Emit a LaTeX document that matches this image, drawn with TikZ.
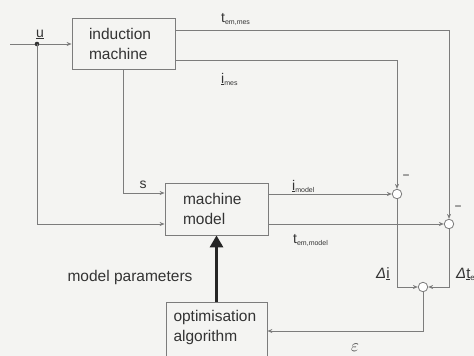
\documentclass[tikz,border=0pt]{standalone}
\usepackage{fontspec}
\setmainfont{Liberation Sans}
\usetikzlibrary{arrows.meta}
\definecolor{ln}{HTML}{7C7C7C}
\definecolor{tx}{HTML}{333333}
\definecolor{bg}{HTML}{F4F4F2}
\begin{document}
\begin{tikzpicture}[x=1pt,y=-1pt,
  line/.style={draw=ln, line width=0.8pt},
  arr/.style={line, -{Stealth[length=5pt,width=4pt]}},
  blk/.style={draw=ln, line width=0.8pt, rectangle, align=left, text=tx,
    font=\fontsize{15.5}{20}\selectfont, inner ysep=0pt},
  summer/.style={circle, draw=ln, line width=0.8pt, fill=white, minimum size=9.5pt, inner sep=0pt},
  lbl/.style={text=tx, font=\fontsize{14}{16}\selectfont, inner sep=0pt},
  sublbl/.style={text=tx, inner sep=0pt, anchor=base west},
  thick arrow/.style={draw=black!85, line width=3.2pt, -{Triangle[length=12pt,width=13pt]}}]
\fill[bg] (0,0) rectangle (474,356);
\useasboundingbox (0,0) rectangle (474,356);

% blocks
\node[blk, minimum width=103pt, minimum height=51pt, text width=69pt, inner xsep=17pt]
  (im) at (123.5,44) {induction\\machine};
\node[blk, minimum width=103pt, minimum height=52pt, text width=67pt, inner xsep=18pt]
  (mm) at (216.5,209) {machine\\model};
\node[blk, anchor=north, minimum width=101pt, text width=86pt, inner xsep=7.5pt, inner ysep=8pt]
  (ob) at (216.5,302) {optimisation\\algorithm\\\mbox{}\\\mbox{}};

% summing points
\node[summer] (s1) at (397,194) {};
\node[summer] (s2) at (449,224) {};
\node[summer] (s3) at (423,287) {};

% helper coordinates
\coordinate (uin) at (10,44);
\coordinate (udot) at (37,44);
\coordinate (epsrow) at (0,331);

% connectors
\draw[arr] (uin) -- (uin -| im.west);
\fill[black!80] (udot) circle (2.3pt);
\draw[arr] (udot) |- ([yshift=-15pt]mm.west);
\draw[arr] (im.south) |- ([yshift=16pt]mm.west);
\draw[arr] ([yshift=14pt]im.east) -| (s2);
\draw[arr] ([yshift=-16pt]im.east) -| (s1);
\draw[arr] ([yshift=15pt]mm.east) -- (s1);
\draw[arr] ([yshift=-15pt]mm.east) -- (s2);
\draw[arr] (s1) |- (s3);
\draw[arr] (s2) |- (s3);
\draw[arr] (s3) |- (ob.east |- epsrow);
\draw[thick arrow] (ob.north) -- (mm.south);

% labels
\node[lbl, anchor=base] (lu) at (40,37) {\underline{u}};
\node[lbl, anchor=base] (ls) at (143,188) {s};
\node[sublbl, font=\fontsize{14}{16}\selectfont] (ltm) at (221,22) {t\raisebox{-2pt}{\fontsize{7}{7}\selectfont em,mes}};
\node[sublbl, font=\fontsize{14}{16}\selectfont] (lim) at (221,83) {\underline{i}\raisebox{-2pt}{\fontsize{7}{7}\selectfont mes}};
\node[sublbl, font=\fontsize{14}{16}\selectfont] (lid) at (292,190) {\underline{i}\raisebox{-2pt}{\fontsize{7}{7}\selectfont model}};
\node[sublbl, font=\fontsize{14}{16}\selectfont] (ltd) at (293,243) {t\raisebox{-2pt}{\fontsize{7}{7}\selectfont em,model}};
\node[lbl, anchor=base] (mn1) at (406,179) {\fontsize{12}{12}\selectfont −};
\node[lbl, anchor=base] (mn2) at (458,210) {\fontsize{12}{12}\selectfont −};
\node[sublbl, font=\fontsize{15}{16}\selectfont] (ldi) at (376,278) {{\itshape Δ}\underline{i}};
\node[sublbl, font=\fontsize{15}{16}\selectfont] (ldt) at (456,278) {{\itshape Δ}\underline{t}\raisebox{-2pt}{\fontsize{8}{8}\selectfont e}};
\node[lbl, anchor=base, font=\fontsize{16}{16}\selectfont] (leps) at (355,351) {$\varepsilon$};
\node[lbl, font=\fontsize{15.5}{18}\selectfont] (lmp) at (130,277) {model parameters};
\end{tikzpicture}
\end{document}
